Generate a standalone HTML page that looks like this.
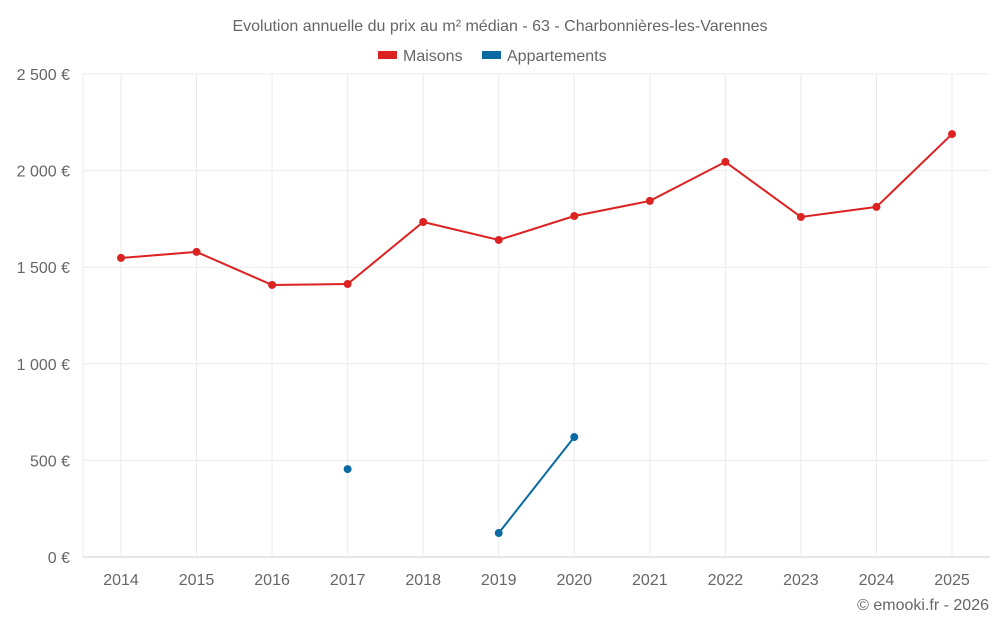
<!DOCTYPE html>
<html><head><meta charset="utf-8"><style>
body{margin:0;background:#fff;font-family:"Liberation Sans",Roboto,sans-serif;}
svg text{font-family:"Liberation Sans",sans-serif;fill:#666;}
</style></head><body>
<svg id="chart" width="1000" height="625" xmlns="http://www.w3.org/2000/svg">
<text x="500" y="31" text-anchor="middle" font-size="16">Evolution annuelle du prix au m² médian - 63 - Charbonnières-les-Varennes</text>
<g><rect x="378" y="51" width="19" height="8" fill="#dd2222"/><text x="403" y="61" font-size="16">Maisons</text></g>
<g><rect x="482" y="51" width="19" height="8" fill="#0a6aa1"/><text x="507" y="61" font-size="16">Appartements</text></g>
<g id="grid"></g><g id="axes"></g><g id="series"></g>
<text x="989" y="610" text-anchor="end" font-size="16">© emooki.fr - 2026</text>
</svg>
<script>
const years=[2014,2015,2016,2017,2018,2019,2020,2021,2022,2023,2024,2025];
const maisons=[1548,1579,1408,1413,1734,1641,1765,1843,2045,1760,1812,2189];
const appartements=[null,null,null,455,null,124,621,null,null,null,null,null];
const yTicks=[0,500,1000,1500,2000,2500];
const yLabels=["0 €","500 €","1 000 €","1 500 €","2 000 €","2 500 €"];
const NS="http://www.w3.org/2000/svg";
const x=i=>121+i*(952-121)/(years.length-1);
const y=v=>557-v*(557-74)/2500;
function mk(t,a,p){const e=document.createElementNS(NS,t);for(const k in a)e.setAttribute(k,a[k]);p.appendChild(e);return e;}
const grid=document.getElementById('grid'),axes=document.getElementById('axes'),ser=document.getElementById('series');
yTicks.forEach((v,i)=>{
 const l=mk('line',{x1:83,x2:990,y1:y(v),y2:y(v),stroke:i==0?'#ccc':'#ebebeb'},grid);
 
 
 const t=mk('text',{x:70,y:y(v)+6,'text-anchor':'end','font-size':16},axes);t.textContent=yLabels[i];
 
 
});
mk('line',{x1:83,x2:83,y1:74,y2:557,stroke:'#ebebeb'},grid);
years.forEach((yr,i)=>{
 const l=mk('line',{x1:x(i),x2:x(i),y1:74,y2:557,stroke:'#ebebeb'},grid);
 
 
 const t=mk('text',{x:x(i),y:585,'text-anchor':'middle','font-size':16},axes);t.textContent=yr;
 
 
});
function draw(data,color,name){
 let seg=[];const segs=[];
 data.forEach((v,i)=>{if(v==null){if(seg.length)segs.push(seg);seg=[];}else seg.push([x(i),y(v)]);});
 if(seg.length)segs.push(seg);
 segs.forEach(s=>{if(s.length>1){const p=mk('polyline',{points:s.map(q=>q.join(',')).join(' '),fill:'none',stroke:color,'stroke-width':2},ser);
  
  }});
 data.forEach((v,i)=>{if(v==null)return;const c=mk('circle',{cx:x(i),cy:y(v),r:4,fill:color},ser);
  
  });
}
draw(maisons,'#dd2222','maisons');
draw(appartements,'#0a6aa1','appartements');
</script>
</body></html>
